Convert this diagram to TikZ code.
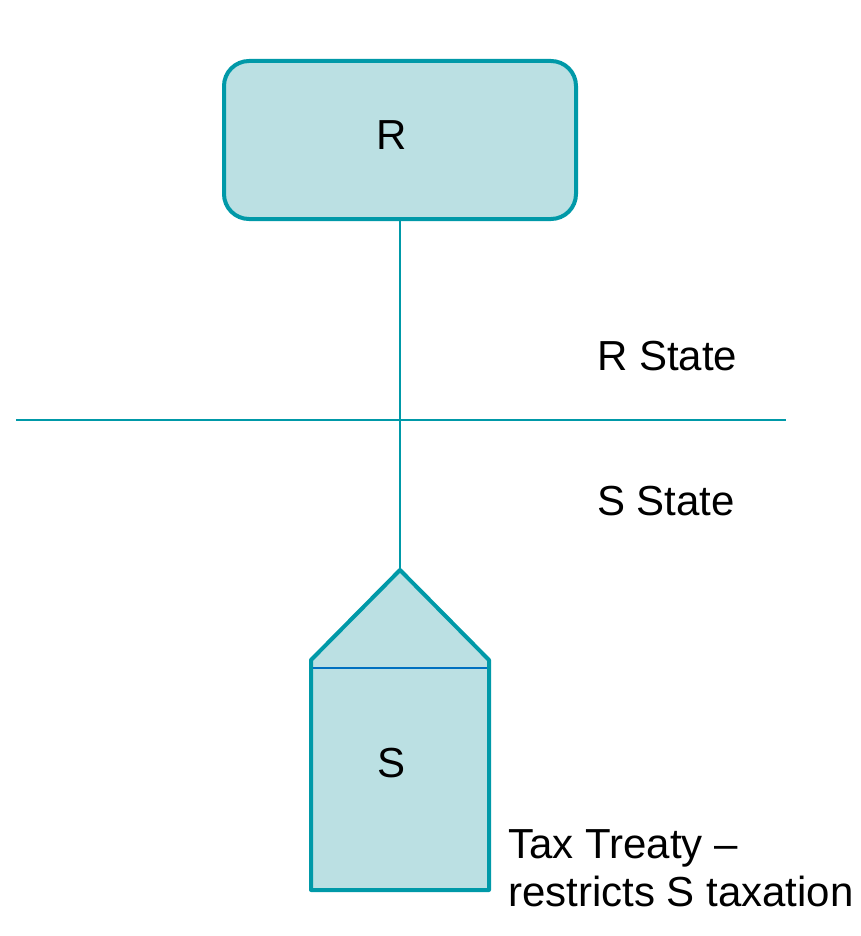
\documentclass[tikz,border=0pt]{standalone}
\usepackage{fontspec}
\setmainfont{Liberation Sans}
\definecolor{tealline}{HTML}{0099A8}
\definecolor{tealfill}{HTML}{BBE0E3}
\definecolor{innerblue}{HTML}{0070C0}
\begin{document}
\begin{tikzpicture}[x=1pt,y=-1pt,
  txt/.style={font=\fontsize{42}{48}\selectfont, text=black, inner sep=0pt},
  entity/.style={draw=tealline, fill=tealfill, line width=4pt},
  conn/.style={draw=tealline, line width=2pt}]
\useasboundingbox (0,0) rectangle (861,936);
% R box
\node[entity, rounded corners=25pt, minimum width=352pt, minimum height=158pt, inner sep=0pt] (R) at (400,140) {};
\node[txt] (Rlbl) at (392,135) {R};
% S pentagon
\coordinate (apex) at (400,570);
\coordinate (sl) at (311,660);
\coordinate (sr) at (489,660);
\coordinate (bl) at (311,890);
\coordinate (br) at (489,890);
\path[entity, line join=round] (apex) -- (sr) -- (br) -- (bl) -- (sl) -- cycle;
\coordinate (il) at (313,668);
\coordinate (ir) at (487,668);
\draw[innerblue, line width=2pt] (il) -- (ir);
\node[txt] (Slbl) at (392,763) {S};
% connector
\draw[conn] (R.south) -- (apex);
% border line
\coordinate (hl) at (16,420);
\coordinate (hr) at (786,420);
\draw[tealline, line width=2.5pt] (hl) -- (hr);
% labels
\node[txt, anchor=base west] (rstate) at (597,370) {R State};
\node[txt, anchor=base west] (sstate) at (597,515) {S State};
\node[txt, anchor=base west] (tt1) at (508,858) {Tax Treaty –};
\node[txt, anchor=base west] (tt2) at (508,906) {restricts S taxation};
\end{tikzpicture}
\end{document}
